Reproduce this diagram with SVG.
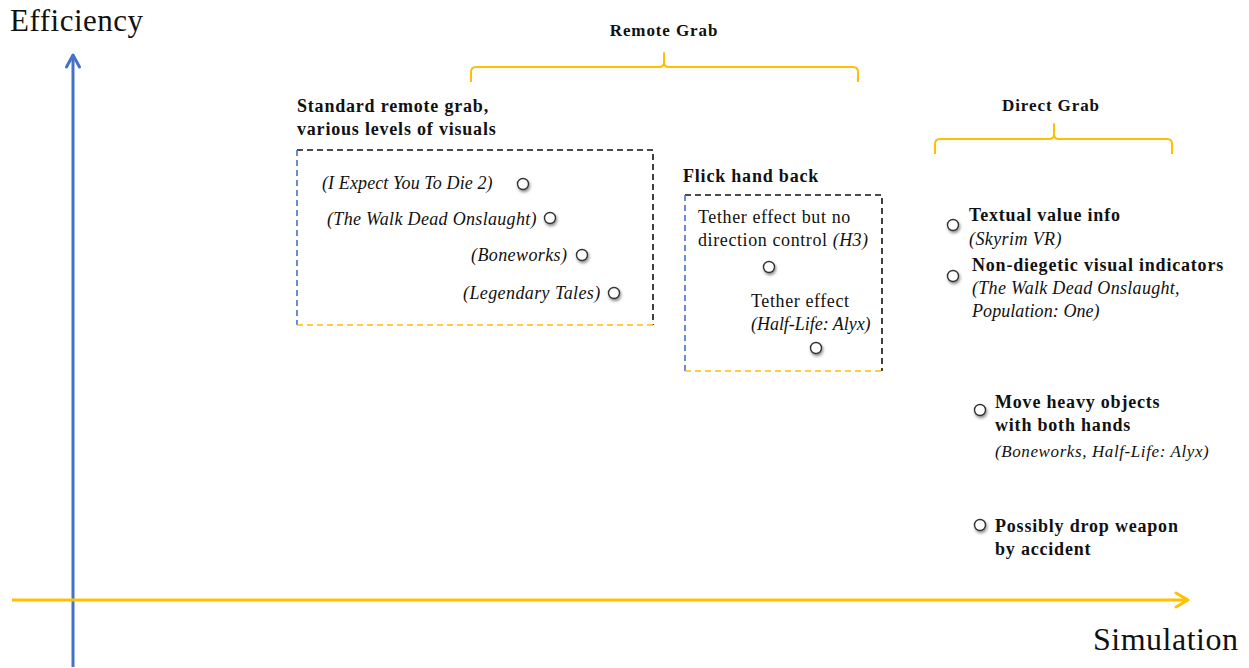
<svg xmlns="http://www.w3.org/2000/svg" width="1249" height="668" viewBox="0 0 1249 668">
  <defs>
    <filter id="shadow" x="-60%" y="-60%" width="240%" height="240%">
      <feDropShadow dx="1" dy="2" stdDeviation="1.4" flood-color="#000" flood-opacity="0.45"/>
    </filter>
  </defs>
  <style>
    text { font-family: "Liberation Serif", "Times New Roman", serif; font-size: 18px; fill: #111; }
    .b { font-weight: bold; letter-spacing: 0.8px; }
    .r { letter-spacing: 0.6px; }
    .i { font-style: italic; letter-spacing: 0.4px; }
    .axis-label { letter-spacing: 0.5px; }
    .head { font-size: 17px; font-weight: bold; letter-spacing: 0.9px; }
    .dot { fill: #fff; stroke: #333; stroke-width: 1.4; filter: url(#shadow); }
    .brace { fill: none; stroke: #FFC000; stroke-width: 2; stroke-linejoin: round; }
    .dash { fill: none; stroke-width: 1.6; stroke-dasharray: 6 4; }
  </style>

  <!-- axes -->
  <g id="connectors">
    <line x1="73" y1="667" x2="73" y2="56" stroke="#4472C4" stroke-width="3"/>
    <polyline points="66.5,67 73,55 79.5,67" fill="none" stroke="#4472C4" stroke-width="3" stroke-linecap="round" stroke-linejoin="round"/>
    <line x1="12" y1="600" x2="1186" y2="600" stroke="#FFC000" stroke-width="3"/>
    <polyline points="1176,593 1188,600 1176,607" fill="none" stroke="#FFC000" stroke-width="3" stroke-linecap="round" stroke-linejoin="round"/>
  </g>

  <g id="axis-labels">
    <text class="axis-label" x="10" y="31" style="font-size:31px">Efficiency</text>
    <text class="axis-label" x="1093" y="650" style="font-size:32px">Simulation</text>
  </g>

  <!-- category braces -->
  <g id="remote-grab">
    <path class="brace" d="M471,82 V72 Q471,67 476,67 H659 Q664,67 664,62 V53 V62 Q664,67 669,67 H853 Q858,67 858,72 V82"/>
    <text class="head" x="664" y="36" text-anchor="middle">Remote Grab</text>
  </g>
  <g id="direct-grab">
    <path class="brace" d="M935,154 V144 Q935,139 940,139 H1049 Q1054,139 1054,134 V124 V134 Q1054,139 1059,139 H1167 Q1172,139 1172,144 V154"/>
    <text class="head" x="1051" y="111" text-anchor="middle">Direct Grab</text>
  </g>

  <!-- standard remote grab box -->
  <g id="standard-remote-grab">
    <text class="b" x="297" y="112">Standard remote grab,</text>
    <text class="b" x="297" y="135">various levels of visuals</text>
    <path class="dash" stroke="#111" d="M297,150 H653 V325"/>
    <path class="dash" stroke="#4472C4" d="M297,150 V325"/>
    <path class="dash" stroke="#FFC000" d="M297,325 H653"/>
    <text class="i" x="322" y="189" textLength="171">(I Expect You To Die 2)</text>
    <circle class="dot" cx="523" cy="184" r="5.5"/>
    <text class="i" x="327" y="225" textLength="210">(The Walk Dead Onslaught)</text>
    <circle class="dot" cx="550" cy="218" r="5.5"/>
    <text class="i" x="471" y="261">(Boneworks)</text>
    <circle class="dot" cx="582" cy="255" r="5.5"/>
    <text class="i" x="463" y="299">(Legendary Tales)</text>
    <circle class="dot" cx="614" cy="293" r="5.5"/>
  </g>

  <!-- flick hand back box -->
  <g id="flick-hand-back">
    <text class="b" x="683" y="182">Flick hand back</text>
    <path class="dash" stroke="#111" d="M685,195 H882 V371"/>
    <path class="dash" stroke="#4472C4" d="M685,195 V371"/>
    <path class="dash" stroke="#FFC000" d="M685,371 H882"/>
    <text class="r" x="698" y="223">Tether effect but no</text>
    <text class="r" x="698" y="246">direction control <tspan class="i">(H3)</tspan></text>
    <circle class="dot" cx="769" cy="267" r="5.5"/>
    <text class="r" x="751" y="307">Tether effect</text>
    <text class="i" x="751" y="330" textLength="120">(Half-Life: Alyx)</text>
    <circle class="dot" cx="816" cy="348" r="5.5"/>
  </g>

  <!-- direct grab items -->
  <g id="textual-value-info">
    <circle class="dot" cx="953" cy="225" r="5.5"/>
    <text class="b" x="969" y="221">Textual value info</text>
    <text class="i" x="969" y="245">(Skyrim VR)</text>
  </g>
  <g id="non-diegetic-indicators">
    <circle class="dot" cx="953" cy="276" r="5.5"/>
    <text class="b" x="972" y="271">Non-diegetic visual indicators</text>
    <text class="i" x="972" y="294" textLength="208">(The Walk Dead Onslaught,</text>
    <text class="i" x="972" y="317" textLength="128">Population: One)</text>
  </g>
  <g id="move-heavy-objects">
    <circle class="dot" cx="980" cy="410" r="5.5"/>
    <text class="b" x="995" y="408">Move heavy objects</text>
    <text class="b" x="995" y="431">with both hands</text>
    <text class="i" x="995" y="457" style="font-size:17px;letter-spacing:0.6px">(Boneworks, Half-Life: Alyx)</text>
  </g>
  <g id="drop-weapon">
    <circle class="dot" cx="980" cy="525" r="5.5"/>
    <text class="b" x="995" y="532">Possibly drop weapon</text>
    <text class="b" x="995" y="555">by accident</text>
  </g>
</svg>
